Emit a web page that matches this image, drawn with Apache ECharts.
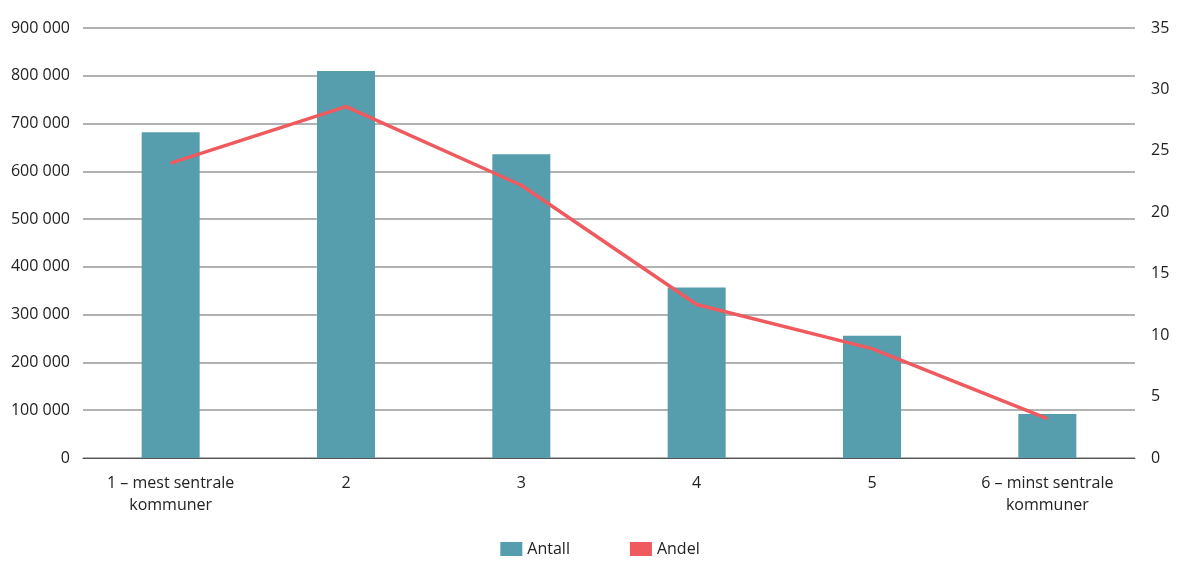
<!DOCTYPE html><html><head><meta charset="utf-8"><script src="https://cdn.jsdelivr.net/npm/echarts@6/dist/echarts.min.js"></script></head><body style="margin:0"><div id="c" style="width:1200px;height:576px"></div><script>
const categories=['1 – mest sentrale\nkommuner','2','3','4','5','6 – minst sentrale\nkommuner'];
const antall=[682000,810000,636000,357000,256000,92000];
const andel=[24.0,28.6,22.2,12.5,8.9,3.2];
const c=echarts.init(document.getElementById('c'));
const fam='"Open Sans", "Noto Sans", sans-serif';
c.setOption({animation:false,textStyle:{fontFamily:fam},
grid:{left:83,right:65,top:28,bottom:118},
legend:{bottom:14,itemGap:60,textStyle:{fontSize:16,color:'#222'},data:[{name:'Antall',icon:'rect'},{name:'Andel',icon:'rect'}],itemWidth:22,itemHeight:14},
xAxis:{type:'category',data:categories,axisTick:{show:false},axisLine:{lineStyle:{color:'#555'}},axisLabel:{fontSize:16,color:'#222',lineHeight:22,interval:0,margin:14}},
yAxis:[{type:'value',min:0,max:900000,interval:100000,axisLabel:{fontSize:16,color:'#222',margin:13,formatter:v=>v===0?'0':String(v).replace(/\B(?=(\d{3})+(?!\d))/g,' ')},splitLine:{lineStyle:{color:'#999',width:1.5}}},
{type:'value',min:0,max:35,interval:5,axisLabel:{fontSize:16,color:'#222',margin:16},splitLine:{show:false}}],
series:[{name:'Antall',type:'bar',data:antall,barWidth:58,itemStyle:{color:'#569dae'}},
{name:'Andel',type:'line',yAxisIndex:1,data:andel,symbol:'none',lineStyle:{color:'#ef5a5f',width:3.5},itemStyle:{color:'#ef5a5f'}}]});
</script></body></html>
